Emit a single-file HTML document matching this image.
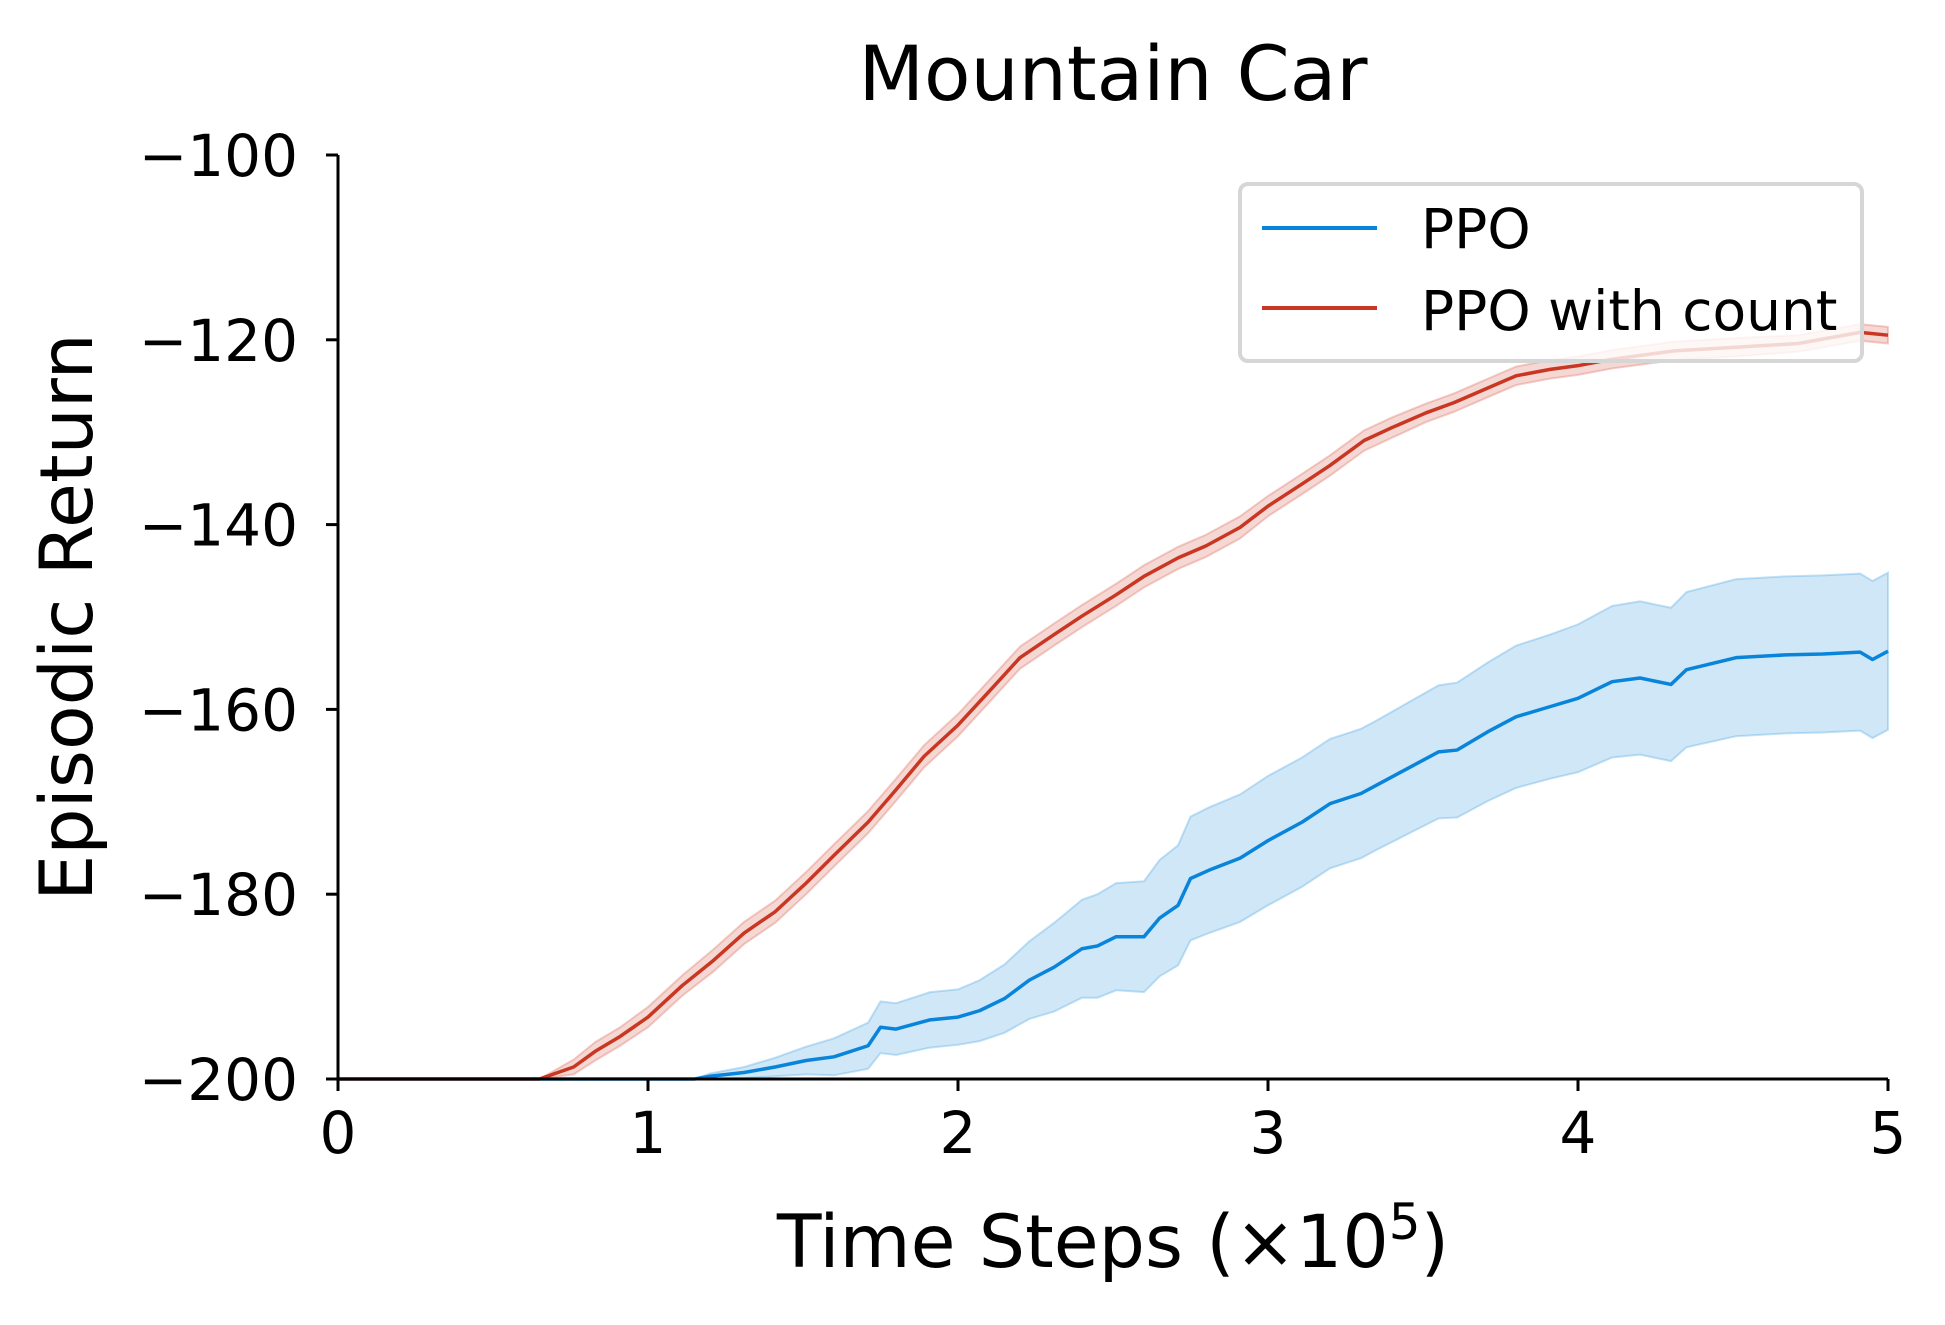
<!DOCTYPE html>
<html><head><meta charset="utf-8"><style>
html,body{margin:0;padding:0;background:#fff}
svg{display:block;font-family:"DejaVu Sans","Liberation Sans",sans-serif}
</style></head><body>
<svg id="chart" width="1945" height="1325" viewBox="0 0 1945 1325" xmlns="http://www.w3.org/2000/svg">
<rect width="1945" height="1325" fill="#fff"/>
<g id="bands"></g>
<g id="lines"></g>
<g id="axes"></g>
<text x="1113" y="100" font-size="76" text-anchor="middle">Mountain Car</text>
<text x="1113" y="1267" font-size="73" text-anchor="middle">Time Steps (×10<tspan dy="-28" font-size="50">5</tspan><tspan dy="28">)</tspan></text>
<text transform="translate(92,617) rotate(-90)" font-size="73" text-anchor="middle">Episodic Return</text>
<g>
<rect x="1240" y="184" width="622" height="177" rx="8" fill="#fff" fill-opacity="0.8" stroke="#d6d6d6" stroke-width="4"/>
<line x1="1262" y1="228" x2="1377" y2="228" stroke="#0984db" stroke-width="4"/>
<text x="1421" y="248" font-size="55">PPO</text>
<line x1="1262" y1="308" x2="1377" y2="308" stroke="#c93622" stroke-width="4"/>
<text x="1421" y="330" font-size="55">PPO with count</text>
</g>
</svg>
<script>
const redX = [0,0.65,0.76,0.83,0.91,1.0,1.11,1.21,1.31,1.41,1.51,1.6,1.71,1.8,1.89,2.0,2.11,2.2,2.31,2.4,2.51,2.6,2.71,2.8,2.91,3.0,3.11,3.2,3.31,3.4,3.51,3.6,3.71,3.8,3.91,4.0,4.11,4.31,4.51,4.71,4.91,5.0];
const redY = [-200,-200,-198.7,-197.0,-195.4,-193.3,-189.9,-187.2,-184.2,-181.9,-178.8,-175.8,-172.2,-168.7,-165.1,-161.7,-157.7,-154.4,-151.9,-149.9,-147.6,-145.6,-143.6,-142.3,-140.3,-138.0,-135.6,-133.6,-130.9,-129.5,-127.9,-126.8,-125.2,-123.9,-123.2,-122.8,-122.1,-121.2,-120.8,-120.4,-119.2,-119.5];
const redErr = [0,0,0.8,1,1,1.1,1.1,1.2,1.2,1.2,1.2,1.2,1.2,1.2,1.2,1.2,1.2,1.2,1.2,1.2,1.2,1.2,1.2,1.2,1.2,1.1,1.1,1.1,1.1,1.1,1,1,1,1,1,1,1,1,1,0.9,0.9,0.9];
const blueX = [0,1.15,1.2,1.31,1.41,1.51,1.6,1.71,1.75,1.8,1.91,2.0,2.07,2.15,2.23,2.31,2.4,2.45,2.51,2.6,2.65,2.71,2.75,2.81,2.91,3.0,3.11,3.2,3.3,3.35,3.45,3.55,3.61,3.71,3.8,3.91,4.0,4.11,4.2,4.3,4.35,4.51,4.67,4.79,4.91,4.95,5.0];
const blueY = [-200,-200,-199.7,-199.3,-198.7,-198.0,-197.6,-196.4,-194.4,-194.6,-193.6,-193.3,-192.6,-191.3,-189.3,-187.9,-185.9,-185.6,-184.6,-184.6,-182.6,-181.2,-178.3,-177.4,-176.1,-174.2,-172.2,-170.2,-169.1,-168.2,-166.4,-164.6,-164.4,-162.4,-160.8,-159.7,-158.8,-157.0,-156.6,-157.3,-155.7,-154.4,-154.1,-154.0,-153.8,-154.6,-153.7];
const blueErr = [0,0,0.3,0.6,1,1.5,2,2.5,2.8,2.8,3,3,3.3,3.7,4.2,4.8,5.3,5.6,5.8,6,6.3,6.5,6.7,6.8,6.9,7,7,7,7,7,7.1,7.2,7.3,7.5,7.7,7.8,8,8.2,8.3,8.3,8.4,8.5,8.5,8.5,8.5,8.5,8.5];
const xTicks = [0,1,2,3,4,5];
const yTicks = [-200,-180,-160,-140,-120,-100];

const NS = "http://www.w3.org/2000/svg";
const X0 = 338, XS = 310, Y0 = 1079, YS = 9.24;
function sx(v){ return X0 + v * XS; }
function sy(v){ return Y0 - (v + 200) * YS; }
function mk(tag, attrs, parent){ const e = document.createElementNS(NS, tag); for (const k in attrs) e.setAttribute(k, attrs[k]); parent.appendChild(e); return e; }

function drawSeries(xs, ys, es, color, fill, nm){
  let up = xs.map((x,i)=>sx(x)+","+sy(Math.min(ys[i]+es[i], -100))).join(" ");
  let lo = xs.map((x,i)=>sx(x)+","+sy(Math.max(ys[i]-es[i], -200))).reverse().join(" ");
  const band = mk("polygon", {points: up+" "+lo, fill: fill, "fill-opacity": 0.25, stroke: fill, "stroke-opacity": 0.3, "stroke-width": 2}, document.getElementById("bands"));
  
  
  const line = mk("polyline", {points: xs.map((x,i)=>sx(x)+","+sy(ys[i])).join(" "), fill: "none", stroke: color, "stroke-width": 3.5, "stroke-linejoin": "round"}, document.getElementById("lines"));
  
  
}
drawSeries(blueX, blueY, blueErr, "#0984db", "#3f9ee0", "ppo");
drawSeries(redX, redY, redErr, "#c93622", "#d9604f", "ppo-count");

const ax = document.getElementById("axes");
const yl = mk("line", {x1: X0, y1: sy(-100), x2: X0, y2: Y0, stroke: "#000", "stroke-width": 3}, ax);


const xl = mk("line", {x1: X0, y1: Y0, x2: sx(5), y2: Y0, stroke: "#000", "stroke-width": 3}, ax);


xTicks.forEach(t=>{
  const tk = mk("line", {x1: sx(t), y1: Y0, x2: sx(t), y2: Y0+12, stroke: "#000", "stroke-width": 3}, ax);
  
  
  const tl = mk("text", {x: sx(t), y: Y0+74, "font-size": 58, "text-anchor": "middle"}, ax);
  tl.textContent = String(t);
  
  
});
yTicks.forEach(t=>{
  const tk = mk("line", {x1: X0-12, y1: sy(t), x2: X0, y2: sy(t), stroke: "#000", "stroke-width": 3}, ax);
  
  
  const tl = mk("text", {x: X0-40, y: sy(t)+21, "font-size": 58, "text-anchor": "end"}, ax);
  tl.textContent = "\u2212" + String(Math.abs(t));
  
  
});
</script>
</body></html>
